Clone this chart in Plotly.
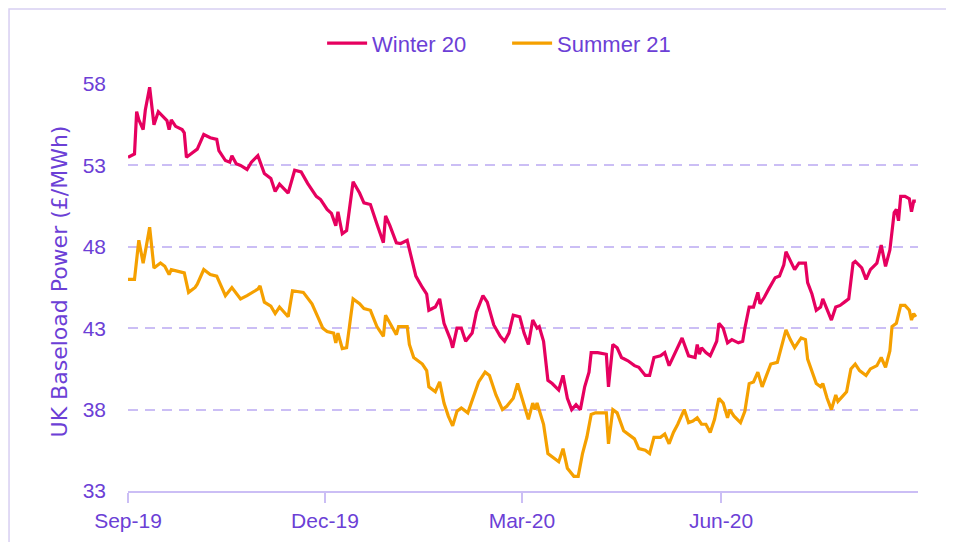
import pandas as pd
import plotly.graph_objects as go

start_date = "2019-09-01"

winter_days = [0, 3, 4, 5, 7, 8, 10, 12, 14, 16, 18, 19, 20, 22, 25, 26, 27, 29, 32, 35, 38, 41, 42, 45, 47, 48, 50, 52, 55, 57,
               60, 63, 66, 68, 70, 74, 77, 80, 83, 87, 89, 92, 94, 96, 97, 99, 101, 104, 107, 109, 112, 115, 118, 119, 121,
               124, 126, 129, 131, 133, 136, 138, 139, 142, 144, 146, 149, 150, 152, 154, 156, 159, 161, 164, 166, 169, 172,
               174, 176, 178, 181, 183, 185, 187, 189, 190, 192, 194, 196, 198, 199, 201, 203, 205, 207, 209, 211, 213, 214,
               217, 221, 222, 224, 226, 228, 231, 234, 236, 239, 241, 243, 246, 248, 250, 252, 254, 256, 259, 262, 263, 264,
               265, 267, 269, 272, 273, 275, 277, 279, 282, 284, 285, 287, 289, 291, 292, 294, 296, 299, 301, 303, 304, 306,
               308, 310, 313, 314, 316, 318, 320, 321, 323, 325, 327, 329, 331, 333, 335, 336, 339, 341, 343, 345, 346, 348,
               349, 350, 352, 354, 355, 356, 357, 359, 361, 362, 363, 364]
winter_vals = [53.5, 53.7, 56.3, 55.8, 55.2, 56.4, 57.8, 55.5, 56.3, 56.0, 55.75, 55.2, 55.8, 55.4, 55.2, 55.0, 53.5, 53.7, 54.0,
               54.9, 54.7, 54.6, 53.9, 53.3, 53.2, 53.6, 53.1, 53.0, 52.75, 53.2, 53.6, 52.5, 52.2, 51.4, 51.85, 51.3, 52.7,
               52.6, 51.9, 51.1, 50.9, 50.3, 50.05, 49.3, 50.15, 48.8, 49.0, 52.0, 51.3, 50.7, 50.6, 49.4, 48.25, 49.9, 49.3,
               48.25, 48.2, 48.4, 47.2, 46.2, 45.5, 45.1, 44.1, 44.3, 44.8, 43.3, 42.3, 41.8, 43.0, 43.0, 42.2, 42.7, 44.0,
               45.0, 44.6, 43.2, 42.5, 42.2, 42.7, 43.8, 43.7, 42.7, 42.0, 43.5, 43.0, 43.1, 42.2, 39.8, 39.6, 39.3, 39.2,
               40.1, 38.7, 38.0, 38.3, 38.0, 39.4, 40.3, 41.5, 41.5, 41.4, 39.4, 42.0, 41.8, 41.2, 41.0, 40.7, 40.6, 40.1,
               40.1, 41.2, 41.3, 41.5, 40.7, 41.3, 41.8, 42.4, 41.3, 41.2, 42.0, 41.4, 41.8, 41.5, 41.3, 42.2, 43.3, 43.0,
               42.1, 42.3, 42.1, 42.2, 43.0, 44.3, 44.3, 45.2, 44.5, 44.9, 45.4, 46.1, 46.2, 46.9, 47.7, 47.2, 46.6, 47.0,
               47.0, 45.8, 45.1, 44.1, 44.3, 44.8, 44.1, 43.5, 44.3, 44.4, 44.6, 44.8, 47.0, 47.1, 46.7, 46.0, 46.6, 46.9,
               47.0, 48.1, 47.5, 46.8, 47.8, 50.1, 50.3, 49.6, 51.1, 51.1, 50.95, 50.15, 50.8, 50.8]

summer_days = [0, 3, 5, 7, 8, 10, 12, 15, 17, 19, 20, 23, 26, 28, 31, 32, 35, 38, 41, 45, 48, 52, 55, 60, 61, 63, 66, 68, 70, 74,
               76, 81, 85, 88, 90, 92, 95, 96, 97, 99, 101, 104, 107, 109, 112, 115, 118, 119, 121, 124, 125, 129, 130, 132,
               136, 138, 139, 142, 144, 146, 148, 150, 152, 154, 157, 160, 162, 165, 167, 170, 173, 175, 178, 180, 183, 185,
               187, 188, 189, 192, 194, 196, 199, 201, 203, 206, 208, 210, 212, 214, 216, 221, 222, 224, 226, 229, 231, 234,
               236, 239, 241, 243, 246, 248, 250, 252, 254, 255, 257, 259, 261, 263, 265, 267, 269, 271, 273, 275, 277, 278,
               280, 283, 285, 287, 289, 291, 293, 295, 297, 300, 302, 304, 306, 308, 311, 313, 314, 316, 318, 320, 321, 323,
               325, 327, 328, 330, 332, 334, 336, 338, 341, 343, 346, 348, 350, 352, 353, 355, 357, 359, 361, 362, 363, 364]
summer_vals = [46.0, 46.0, 48.4, 47.0, 47.7, 49.2, 46.7, 47.0, 46.8, 46.3, 46.6, 46.5, 46.4, 45.2, 45.5, 45.7, 46.6, 46.3, 46.2,
               45.0, 45.5, 44.8, 45.0, 45.4, 45.6, 44.6, 44.35, 43.9, 44.3, 43.7, 45.3, 45.2, 44.5, 43.6, 43.0, 42.8, 42.7,
               42.1, 42.7, 41.75, 41.8, 44.8, 44.5, 44.2, 44.1, 43.1, 42.5, 43.8, 43.3, 42.6, 43.1, 43.1, 42.0, 41.2, 40.8,
               40.4, 39.4, 39.1, 39.7, 38.4, 37.6, 37.0, 37.9, 38.1, 37.8, 38.9, 39.7, 40.3, 40.1, 38.9, 38.0, 38.2, 38.7,
               39.6, 38.2, 37.4, 38.4, 38.0, 38.4, 37.1, 35.3, 35.1, 34.8, 35.6, 34.4, 33.9, 33.9, 35.3, 36.3, 37.7, 37.8,
               37.8, 35.9, 38.0, 37.8, 36.7, 36.5, 36.2, 35.6, 35.5, 35.3, 36.3, 36.3, 36.5, 35.9, 36.6, 37.1, 37.4, 38.0,
               37.2, 37.3, 37.5, 37.1, 37.1, 36.6, 37.4, 38.7, 38.4, 37.5, 38.0, 37.6, 37.2, 37.9, 39.6, 39.7, 40.3, 39.4,
               40.1, 40.8, 40.9, 41.9, 42.9, 42.3, 41.8, 42.4, 42.3, 41.1, 40.3, 39.6, 39.4, 39.6, 38.7, 38.0, 38.9, 38.5,
               38.8, 39.1, 40.5, 40.8, 40.4, 40.1, 40.5, 40.7, 41.2, 40.6, 41.6, 43.1, 43.3, 44.4, 44.4, 44.1, 43.5, 43.9,
               43.7]

y_ticks = [33, 38, 43, 48, 53, 58]
series_names = ["Winter 20", "Summer 21"]
y_title = "UK Baseload Power (£/MWh)"

base = pd.Timestamp(start_date)
winter_dates = base + pd.to_timedelta(winter_days, unit="D")
summer_dates = base + pd.to_timedelta(summer_days, unit="D")

TEXT = "#6C3FD6"
GRID = "#CBBEF5"
FONT = "Liberation Sans, Arial, sans-serif"

fig = go.Figure()
fig.add_trace(go.Scatter(x=winter_dates, y=winter_vals, mode="lines", name=series_names[0],
                         line=dict(color="#E6005F", width=3.2)))
fig.add_trace(go.Scatter(x=summer_dates, y=summer_vals, mode="lines", name=series_names[1],
                         line=dict(color="#F5A000", width=3.2)))

fig.update_layout(
    width=954, height=542,
    margin=dict(l=120, r=44, t=76, b=59, autoexpand=False),
    paper_bgcolor="white", plot_bgcolor="white",
    font=dict(family=FONT, color=TEXT, size=21),
    showlegend=True,
    legend=dict(orientation="h", x=0.2457, y=1.1, xanchor="left", yanchor="middle",
                font=dict(family=FONT, size=22, color=TEXT), itemwidth=40,
                entrywidth=130, bgcolor="rgba(0,0,0,0)"),
    shapes=[dict(type="rect", xref="paper", yref="paper", x0=-0.1506, x1=1.2, y0=-0.3, y1=1.1843,
                 line=dict(color="#D8CFF2", width=1.5), fillcolor="rgba(0,0,0,0)", layer="below")],
    annotations=[dict(text=y_title, xref="paper", yref="paper", x=-0.0873, y=0.515,
                      xanchor="center", yanchor="middle", textangle=-90, showarrow=False,
                      font=dict(family="DejaVu Sans", size=22, color=TEXT))],
)
fig.update_xaxes(
    type="date", range=["2019-09-01", "2020-08-31"],
    tick0="2019-09-01", dtick="M3", tickformat="%b-%y",
    showgrid=False, showline=True, linecolor=GRID, linewidth=2,
    ticks="outside", ticklen=10, tickcolor=GRID, tickwidth=1.5,
    tickfont=dict(family=FONT, size=21, color=TEXT), zeroline=False,
)
fig.update_yaxes(
    range=[33, 58], tickvals=y_ticks, showline=False, zeroline=False,
    showgrid=True, gridcolor=GRID, gridwidth=1.5, griddash="10px,7px",
    ticks="", ticklabelstandoff=21,
    tickfont=dict(family=FONT, size=21, color=TEXT),
)

fig.write_html("out.html")
